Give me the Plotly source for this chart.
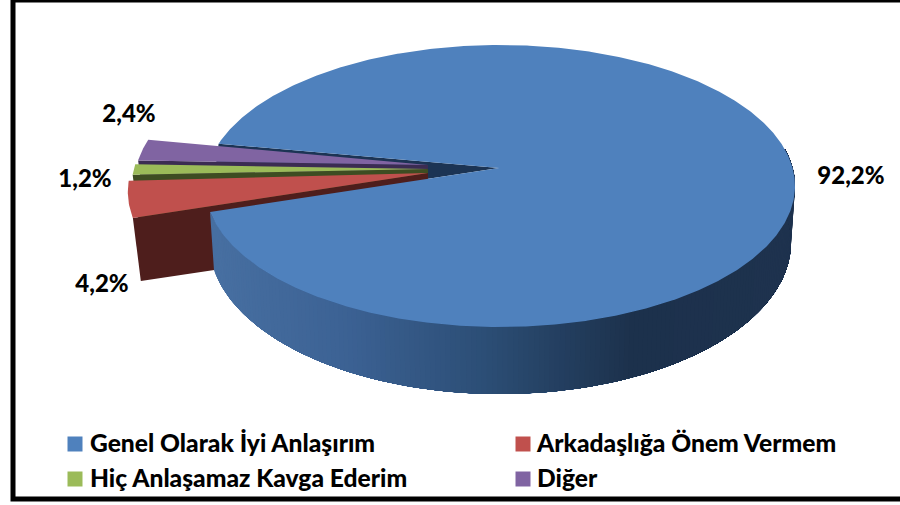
import math
import plotly.graph_objects as go

categories = ["Genel Olarak İyi Anlaşırım", "Arkadaşlığa Önem Vermem", "Hiç Anlaşamaz Kavga Ederim", "Diğer"]
shares = [92.2, 4.2, 1.2, 2.4]
top_colors = ["#4F81BD", "#C0504D", "#9BBB59", "#8064A2"]
wall_colors = ["#1C3454", "#4E1E1C", "#3E4D22", "#3B2C52"]
explode = [0.0, 0.262, 0.25, 0.245]
apex_shift_y = [0, 5, 1, -3]
FONT = "Lato"

# projection of the pie disc onto the page (pixel space)
TOP = dict(cx=500, cy=186, rx=295, ry=141)
BOT = dict(cx=500, cy=242, rx=291, ry=152)
TIP = (499, 168)
START = 190.6          # ellipse angle where the first slice begins
EXPLODE_APEX_DX = -71
EXPLODE_DROP = 4.0
DEPTH_RIM = (8, 63)
DEPTH_APEX = (0, 65)


def pt(e, t):
    r = math.radians(t)
    return e["cx"] + e["rx"] * math.cos(r), e["cy"] - e["ry"] * math.sin(r)


def arc(e, a, b, n=None):
    n = n or max(4, int(abs(b - a) * 2))
    return [pt(e, a + (b - a) * i / n) for i in range(n + 1)]


def poly(fig, pts, color, lw=0.0):
    xs = [p[0] for p in pts] + [pts[0][0]]
    ys = [p[1] for p in pts] + [pts[0][1]]
    fig.add_trace(go.Scatter(x=xs, y=ys, mode="lines", fill="toself", fillcolor=color,
                             line=dict(color=color, width=lw), hoverinfo="skip", showlegend=False))


def lerp_color(x):
    stops = [(205, (72, 112, 162)), (340, (60, 98, 148)), (480, (44, 78, 118)),
             (630, (28, 49, 76)), (795, (30, 50, 78))]
    for (x0, c0), (x1, c1) in zip(stops, stops[1:]):
        if x <= x1:
            f = max(0, (x - x0) / (x1 - x0))
            return "rgb(%d,%d,%d)" % tuple(round(a + (b - a) * f) for a, b in zip(c0, c1))
    return "rgb(%d,%d,%d)" % stops[-1][1]


fig = go.Figure()

blue_span = shares[0] * 3.6
blue_end = START + blue_span
upper_rim = pt(TOP, blue_end)
lower_rim = pt(TOP, START)

# navy cut wall seen in the gap
poly(fig, [upper_rim, TIP, lower_rim], wall_colors[0])

# exploded slices, drawn from the back (last) to the front
spans = {}
a = START
for i in (1, 2, 3):
    spans[i] = (a, a - shares[i] * 3.6)
    a = spans[i][1]

for i in (3, 2, 1):
    hi, lo = spans[i]
    mid = math.radians((hi + lo) / 2)
    off = (explode[i] * TOP["rx"] * math.cos(mid),
           -explode[i] * TOP["ry"] * math.sin(mid) + EXPLODE_DROP)
    apex = (TIP[0] + EXPLODE_APEX_DX, TIP[1] + apex_shift_y[i])
    rim = [(x + off[0], y + off[1]) for x, y in arc(TOP, hi, lo, 24)]
    r0 = rim[0]
    wall = [apex, r0, (r0[0] + DEPTH_RIM[0], r0[1] + DEPTH_RIM[1]),
            (apex[0] + DEPTH_APEX[0], apex[1] + DEPTH_APEX[1])]
    poly(fig, wall, wall_colors[i])
    poly(fig, [apex] + rim, top_colors[i])

# blue outer wall: overlapping strips painted in order, so no seams show
n = 180
t0, t1 = START, 375.0
for k in range(n):
    a0 = t0 + (t1 - t0) * k / n
    p0 = pt(TOP, a0)
    strip = arc(TOP, a0, t1, 6 + (n - k)) + arc(BOT, t1, a0, 6 + (n - k))
    poly(fig, strip, lerp_color(p0[0]))

# blue top
poly(fig, [TIP] + arc(TOP, START, blue_end, 700), top_colors[0])

LEGEND_FONT = dict(family=FONT, size=24.6, color="black", weight=900)
LABEL_FONT = dict(family=FONT, size=24, color="black", weight=900)

# percentage labels
label_pos = [(851, 178), (102, 286), (85, 181), (129, 116)]
fig.add_trace(go.Scatter(
    x=[p[0] for p in label_pos], y=[p[1] for p in label_pos], mode="text",
    text=[f"{v:.1f}%".replace(".", ",") for v in shares], textposition="middle center",
    textfont=LABEL_FONT, hoverinfo="skip", showlegend=False))

# legend
key_x = [75, 523, 75, 523]
key_y = [444, 444, 479, 479]
text_x = [90, 537, 90, 537]
fig.add_trace(go.Scatter(x=key_x, y=key_y, mode="markers",
                         marker=dict(symbol="square", size=15, color=top_colors, line=dict(width=0)),
                         hoverinfo="skip", showlegend=False))
fig.add_trace(go.Scatter(x=text_x, y=[v + 2 for v in key_y], mode="text", text=categories,
                         textposition="middle right", textfont=LEGEND_FONT,
                         hoverinfo="skip", showlegend=False))

fig.update_layout(
    width=900, height=505, margin=dict(l=0, r=0, t=0, b=0),
    paper_bgcolor="white", plot_bgcolor="white",
    xaxis=dict(range=[0, 900], visible=False, fixedrange=True),
    yaxis=dict(range=[505, 0], visible=False, fixedrange=True),
    shapes=[dict(type="rect", xref="x", yref="y", x0=13, y0=0, x1=910, y1=499,
                 line=dict(color="black", width=5), layer="above")],
)
fig.write_html("out.html", config={"displayModeBar": False},
               post_script="document.body.style.margin='0';document.body.style.overflow='hidden';")
